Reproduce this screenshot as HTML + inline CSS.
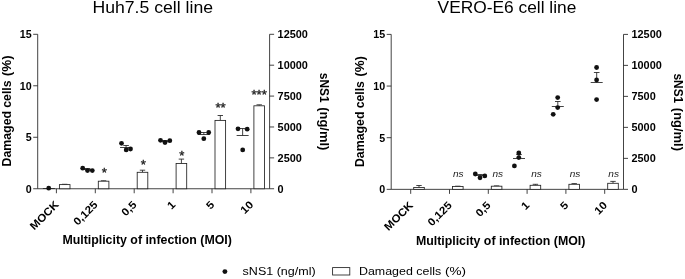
<!DOCTYPE html>
<html><head><meta charset="utf-8"><title>Figure</title>
<style>
html,body{margin:0;padding:0;background:#fff;overflow:hidden;}
svg{display:block;will-change:transform;font-family:"Liberation Sans",Arial,sans-serif;}
</style></head><body>
<svg width="685" height="279" viewBox="0 0 685 279">
<rect width="685" height="279" fill="#fff"/>
<g stroke="#222" stroke-width="0.85" fill="none">
<path d="M37.7 34.3V188.75H269.6V34.3"/>
<path d="M33.2 188.75H37.7"/>
<path d="M33.2 137.27H37.7"/>
<path d="M33.2 85.78H37.7"/>
<path d="M33.2 34.30H37.7"/>
<path d="M269.6 188.75H274.1"/>
<path d="M269.6 157.86H274.1"/>
<path d="M269.6 126.97H274.1"/>
<path d="M269.6 96.08H274.1"/>
<path d="M269.6 65.19H274.1"/>
<path d="M269.6 34.30H274.1"/>
<path d="M56.40 188.75V193.25"/>
<path d="M95.30 188.75V193.25"/>
<path d="M134.20 188.75V193.25"/>
<path d="M173.10 188.75V193.25"/>
<path d="M212.00 188.75V193.25"/>
<path d="M250.90 188.75V193.25"/>
</g>
<text x="31.700000000000003" y="192.55" font-size="10.7" font-weight="bold" text-anchor="end" fill="#000" textLength="5.95" lengthAdjust="spacingAndGlyphs">0</text>
<text x="31.700000000000003" y="141.07" font-size="10.7" font-weight="bold" text-anchor="end" fill="#000" textLength="5.95" lengthAdjust="spacingAndGlyphs">5</text>
<text x="31.700000000000003" y="89.58" font-size="10.7" font-weight="bold" text-anchor="end" fill="#000" textLength="11.90" lengthAdjust="spacingAndGlyphs">10</text>
<text x="31.700000000000003" y="38.10" font-size="10.7" font-weight="bold" text-anchor="end" fill="#000" textLength="11.90" lengthAdjust="spacingAndGlyphs">15</text>
<text x="277.6" y="192.65" font-size="10.9" font-weight="bold" fill="#000" textLength="6.06" lengthAdjust="spacingAndGlyphs">0</text>
<text x="277.6" y="161.76" font-size="10.9" font-weight="bold" fill="#000" textLength="24.25" lengthAdjust="spacingAndGlyphs">2500</text>
<text x="277.6" y="130.87" font-size="10.9" font-weight="bold" fill="#000" textLength="24.25" lengthAdjust="spacingAndGlyphs">5000</text>
<text x="277.6" y="99.98" font-size="10.9" font-weight="bold" fill="#000" textLength="24.25" lengthAdjust="spacingAndGlyphs">7500</text>
<text x="277.6" y="69.09" font-size="10.9" font-weight="bold" fill="#000" textLength="30.31" lengthAdjust="spacingAndGlyphs">10000</text>
<text x="277.6" y="38.20" font-size="10.9" font-weight="bold" fill="#000" textLength="30.31" lengthAdjust="spacingAndGlyphs">12500</text>
<text x="0" y="3.8" font-size="10.8" font-weight="bold" text-anchor="end" transform="translate(56.80 202.70) rotate(-45)" fill="#000" textLength="35.64" lengthAdjust="spacingAndGlyphs">MOCK</text>
<text x="0" y="3.8" font-size="10.8" font-weight="bold" text-anchor="end" transform="translate(95.70 202.70) rotate(-45)" fill="#000" textLength="29.19" lengthAdjust="spacingAndGlyphs">0,125</text>
<text x="0" y="3.8" font-size="10.8" font-weight="bold" text-anchor="end" transform="translate(134.60 202.70) rotate(-45)" fill="#000" textLength="16.21" lengthAdjust="spacingAndGlyphs">0,5</text>
<text x="0" y="3.8" font-size="10.8" font-weight="bold" text-anchor="end" transform="translate(173.50 202.70) rotate(-45)" fill="#000" textLength="6.49" lengthAdjust="spacingAndGlyphs">1</text>
<text x="0" y="3.8" font-size="10.8" font-weight="bold" text-anchor="end" transform="translate(212.40 202.70) rotate(-45)" fill="#000" textLength="6.49" lengthAdjust="spacingAndGlyphs">5</text>
<text x="0" y="3.8" font-size="10.8" font-weight="bold" text-anchor="end" transform="translate(251.30 202.70) rotate(-45)" fill="#000" textLength="12.97" lengthAdjust="spacingAndGlyphs">10</text>
<text x="92.44" y="12.85" font-size="15.8" fill="#000" textLength="120.61" lengthAdjust="spacingAndGlyphs">Huh7.5 cell line</text>
<text x="62.400000000000006" y="244.3" font-size="11.9" font-weight="bold" fill="#000" textLength="169.50" lengthAdjust="spacingAndGlyphs">Multiplicity of infection (MOI)</text>
<text x="-0.83" y="0" font-size="12.1" font-weight="bold" transform="translate(10.60 165.60) rotate(-90)" fill="#000" textLength="55.45" lengthAdjust="spacingAndGlyphs">Damaged</text>
<text x="-0.49" y="0" font-size="12.1" font-weight="bold" transform="translate(10.60 107.20) rotate(-90)" fill="#000" textLength="27.20" lengthAdjust="spacingAndGlyphs">cells</text>
<text x="-0.67" y="0" font-size="12.1" font-weight="bold" transform="translate(10.60 75.60) rotate(-90)" fill="#000" textLength="20.95" lengthAdjust="spacingAndGlyphs">(%)</text>
<text x="-0.42" y="0" font-size="12.1" font-weight="bold" transform="translate(319.90 73.20) rotate(90)" fill="#000" textLength="29.86" lengthAdjust="spacingAndGlyphs">sNS1</text>
<text x="-0.65" y="0" font-size="12.1" font-weight="bold" transform="translate(319.90 107.90) rotate(90)" fill="#000" textLength="43.09" lengthAdjust="spacingAndGlyphs">(ng/ml)</text>
<path d="M64.70 184.30V184.60M62.00 184.30H67.40" stroke="#222" stroke-width="0.85" fill="none"/>
<rect x="59.40" y="184.60" width="10.6" height="4.15" fill="#fff" stroke="#222" stroke-width="0.85"/>
<path d="M103.60 180.80V181.20M100.90 180.80H106.30" stroke="#222" stroke-width="0.85" fill="none"/>
<rect x="98.30" y="181.20" width="10.6" height="7.55" fill="#fff" stroke="#222" stroke-width="0.85"/>
<path d="M142.50 170.20V172.30M139.80 170.20H145.20" stroke="#222" stroke-width="0.85" fill="none"/>
<rect x="137.20" y="172.30" width="10.6" height="16.45" fill="#fff" stroke="#222" stroke-width="0.85"/>
<path d="M181.40 159.10V163.50M178.70 159.10H184.10" stroke="#222" stroke-width="0.85" fill="none"/>
<rect x="176.10" y="163.50" width="10.6" height="25.25" fill="#fff" stroke="#222" stroke-width="0.85"/>
<path d="M220.30 115.50V120.40M217.60 115.50H223.00" stroke="#222" stroke-width="0.85" fill="none"/>
<rect x="215.00" y="120.40" width="10.6" height="68.35" fill="#fff" stroke="#222" stroke-width="0.85"/>
<path d="M259.20 104.80V105.80M256.50 104.80H261.90" stroke="#222" stroke-width="0.85" fill="none"/>
<rect x="253.90" y="105.80" width="10.6" height="82.95" fill="#fff" stroke="#222" stroke-width="0.85"/>
<path d="M42.90 188.50H54.90" stroke="#222" stroke-width="0.85" fill="none"/>
<circle cx="48.7" cy="188.2" r="2.4" fill="#111"/>
<path d="M81.50 169.50H93.50M87.50 168.50V169.50M84.70 168.50H90.30" stroke="#222" stroke-width="0.85" fill="none"/>
<circle cx="82.7" cy="168.2" r="2.4" fill="#111"/>
<circle cx="87.5" cy="170.6" r="2.4" fill="#111"/>
<circle cx="92.3" cy="170.6" r="2.4" fill="#111"/>
<path d="M120.07 147.50H132.07M126.07 145.50V147.50M123.27 145.50H128.87" stroke="#222" stroke-width="0.85" fill="none"/>
<circle cx="121.5" cy="143.3" r="2.4" fill="#111"/>
<circle cx="126.2" cy="149.9" r="2.4" fill="#111"/>
<circle cx="130.5" cy="149.0" r="2.4" fill="#111"/>
<path d="M159.10 141.50H171.10M165.10 140.50V141.50M162.30 140.50H167.90" stroke="#222" stroke-width="0.85" fill="none"/>
<circle cx="160.5" cy="140.3" r="2.4" fill="#111"/>
<circle cx="165" cy="142.5" r="2.4" fill="#111"/>
<circle cx="169.8" cy="140.7" r="2.4" fill="#111"/>
<path d="M197.83 134.50H209.83M203.83 132.50V134.50M201.03 132.50H206.63" stroke="#222" stroke-width="0.85" fill="none"/>
<circle cx="199" cy="132.5" r="2.4" fill="#111"/>
<circle cx="208.7" cy="132.5" r="2.4" fill="#111"/>
<circle cx="203.8" cy="138.7" r="2.4" fill="#111"/>
<path d="M236.63 135.50H248.63M242.63 128.50V135.50M239.83 128.50H245.43" stroke="#222" stroke-width="0.85" fill="none"/>
<circle cx="238" cy="128.8" r="2.4" fill="#111"/>
<circle cx="247.2" cy="129.2" r="2.4" fill="#111"/>
<circle cx="242.7" cy="149.9" r="2.4" fill="#111"/>
<text x="104.2" y="176.8" font-size="13.2" text-anchor="middle" stroke="#222" stroke-width="0.35" fill="#222" textLength="5.14" lengthAdjust="spacingAndGlyphs">*</text>
<text x="143.3" y="169.2" font-size="13.2" text-anchor="middle" stroke="#222" stroke-width="0.35" fill="#222" textLength="5.14" lengthAdjust="spacingAndGlyphs">*</text>
<text x="181.9" y="159.8" font-size="13.2" text-anchor="middle" stroke="#222" stroke-width="0.35" fill="#222" textLength="5.14" lengthAdjust="spacingAndGlyphs">*</text>
<text x="220.6" y="112" font-size="13.2" text-anchor="middle" stroke="#222" stroke-width="0.35" fill="#222" textLength="10.27" lengthAdjust="spacingAndGlyphs">**</text>
<text x="259.1" y="99.2" font-size="13.2" text-anchor="middle" stroke="#222" stroke-width="0.35" fill="#222" textLength="15.41" lengthAdjust="spacingAndGlyphs">***</text>
<g stroke="#222" stroke-width="0.85" fill="none">
<path d="M391.2 34.4V189.35H623.5V34.4"/>
<path d="M386.7 189.35H391.2"/>
<path d="M386.7 137.70H391.2"/>
<path d="M386.7 86.05H391.2"/>
<path d="M386.7 34.40H391.2"/>
<path d="M623.5 189.35H628.0"/>
<path d="M623.5 158.36H628.0"/>
<path d="M623.5 127.37H628.0"/>
<path d="M623.5 96.38H628.0"/>
<path d="M623.5 65.39H628.0"/>
<path d="M623.5 34.40H628.0"/>
<path d="M410.70 189.35V193.85"/>
<path d="M449.50 189.35V193.85"/>
<path d="M488.30 189.35V193.85"/>
<path d="M527.10 189.35V193.85"/>
<path d="M565.90 189.35V193.85"/>
<path d="M604.70 189.35V193.85"/>
</g>
<text x="385.2" y="193.15" font-size="10.7" font-weight="bold" text-anchor="end" fill="#000" textLength="5.95" lengthAdjust="spacingAndGlyphs">0</text>
<text x="385.2" y="141.50" font-size="10.7" font-weight="bold" text-anchor="end" fill="#000" textLength="5.95" lengthAdjust="spacingAndGlyphs">5</text>
<text x="385.2" y="89.85" font-size="10.7" font-weight="bold" text-anchor="end" fill="#000" textLength="11.90" lengthAdjust="spacingAndGlyphs">10</text>
<text x="385.2" y="38.20" font-size="10.7" font-weight="bold" text-anchor="end" fill="#000" textLength="11.90" lengthAdjust="spacingAndGlyphs">15</text>
<text x="631.5" y="193.25" font-size="10.9" font-weight="bold" fill="#000" textLength="6.06" lengthAdjust="spacingAndGlyphs">0</text>
<text x="631.5" y="162.26" font-size="10.9" font-weight="bold" fill="#000" textLength="24.25" lengthAdjust="spacingAndGlyphs">2500</text>
<text x="631.5" y="131.27" font-size="10.9" font-weight="bold" fill="#000" textLength="24.25" lengthAdjust="spacingAndGlyphs">5000</text>
<text x="631.5" y="100.28" font-size="10.9" font-weight="bold" fill="#000" textLength="24.25" lengthAdjust="spacingAndGlyphs">7500</text>
<text x="631.5" y="69.29" font-size="10.9" font-weight="bold" fill="#000" textLength="30.31" lengthAdjust="spacingAndGlyphs">10000</text>
<text x="631.5" y="38.30" font-size="10.9" font-weight="bold" fill="#000" textLength="30.31" lengthAdjust="spacingAndGlyphs">12500</text>
<text x="0" y="3.8" font-size="10.8" font-weight="bold" text-anchor="end" transform="translate(411.10 203.30) rotate(-45)" fill="#000" textLength="35.64" lengthAdjust="spacingAndGlyphs">MOCK</text>
<text x="0" y="3.8" font-size="10.8" font-weight="bold" text-anchor="end" transform="translate(449.90 203.30) rotate(-45)" fill="#000" textLength="29.19" lengthAdjust="spacingAndGlyphs">0,125</text>
<text x="0" y="3.8" font-size="10.8" font-weight="bold" text-anchor="end" transform="translate(488.70 203.30) rotate(-45)" fill="#000" textLength="16.21" lengthAdjust="spacingAndGlyphs">0,5</text>
<text x="0" y="3.8" font-size="10.8" font-weight="bold" text-anchor="end" transform="translate(527.50 203.30) rotate(-45)" fill="#000" textLength="6.49" lengthAdjust="spacingAndGlyphs">1</text>
<text x="0" y="3.8" font-size="10.8" font-weight="bold" text-anchor="end" transform="translate(566.30 203.30) rotate(-45)" fill="#000" textLength="6.49" lengthAdjust="spacingAndGlyphs">5</text>
<text x="0" y="3.8" font-size="10.8" font-weight="bold" text-anchor="end" transform="translate(605.10 203.30) rotate(-45)" fill="#000" textLength="12.97" lengthAdjust="spacingAndGlyphs">10</text>
<text x="437.61" y="12.85" font-size="15.8" fill="#000" textLength="138.73" lengthAdjust="spacingAndGlyphs">VERO-E6 cell line</text>
<text x="415.9" y="244.9" font-size="11.9" font-weight="bold" fill="#000" textLength="169.50" lengthAdjust="spacingAndGlyphs">Multiplicity of infection (MOI)</text>
<text x="-0.83" y="0" font-size="12.1" font-weight="bold" transform="translate(364.10 166.20) rotate(-90)" fill="#000" textLength="55.45" lengthAdjust="spacingAndGlyphs">Damaged</text>
<text x="-0.49" y="0" font-size="12.1" font-weight="bold" transform="translate(364.10 107.80) rotate(-90)" fill="#000" textLength="27.20" lengthAdjust="spacingAndGlyphs">cells</text>
<text x="-0.67" y="0" font-size="12.1" font-weight="bold" transform="translate(364.10 76.20) rotate(-90)" fill="#000" textLength="20.95" lengthAdjust="spacingAndGlyphs">(%)</text>
<text x="-0.42" y="0" font-size="12.1" font-weight="bold" transform="translate(673.80 73.80) rotate(90)" fill="#000" textLength="29.86" lengthAdjust="spacingAndGlyphs">sNS1</text>
<text x="-0.65" y="0" font-size="12.1" font-weight="bold" transform="translate(673.80 108.50) rotate(90)" fill="#000" textLength="43.09" lengthAdjust="spacingAndGlyphs">(ng/ml)</text>
<path d="M419.00 185.50V187.50M416.30 185.50H421.70" stroke="#222" stroke-width="0.85" fill="none"/>
<rect x="413.70" y="187.50" width="10.6" height="1.85" fill="#fff" stroke="#222" stroke-width="0.85"/>
<path d="M457.80 186.20V186.50M455.10 186.20H460.50" stroke="#222" stroke-width="0.85" fill="none"/>
<rect x="452.50" y="186.50" width="10.6" height="2.85" fill="#fff" stroke="#222" stroke-width="0.85"/>
<path d="M496.60 185.90V186.20M493.90 185.90H499.30" stroke="#222" stroke-width="0.85" fill="none"/>
<rect x="491.30" y="186.20" width="10.6" height="3.15" fill="#fff" stroke="#222" stroke-width="0.85"/>
<path d="M535.40 184.30V185.30M532.70 184.30H538.10" stroke="#222" stroke-width="0.85" fill="none"/>
<rect x="530.10" y="185.30" width="10.6" height="4.05" fill="#fff" stroke="#222" stroke-width="0.85"/>
<path d="M574.20 183.60V184.30M571.50 183.60H576.90" stroke="#222" stroke-width="0.85" fill="none"/>
<rect x="568.90" y="184.30" width="10.6" height="5.05" fill="#fff" stroke="#222" stroke-width="0.85"/>
<path d="M613.00 181.40V183.30M610.30 181.40H615.70" stroke="#222" stroke-width="0.85" fill="none"/>
<rect x="607.70" y="183.30" width="10.6" height="6.05" fill="#fff" stroke="#222" stroke-width="0.85"/>
<path d="M474.03 175.50H486.03M480.03 174.50V175.50M477.23 174.50H482.83" stroke="#222" stroke-width="0.85" fill="none"/>
<circle cx="475.3" cy="174.0" r="2.4" fill="#111"/>
<circle cx="480" cy="177.8" r="2.4" fill="#111"/>
<circle cx="484.8" cy="175.9" r="2.4" fill="#111"/>
<path d="M513.00 158.50H525.00M519.00 154.50V158.50M516.20 154.50H521.80" stroke="#222" stroke-width="0.85" fill="none"/>
<circle cx="514.4" cy="165.9" r="2.4" fill="#111"/>
<circle cx="518.8" cy="152.9" r="2.4" fill="#111"/>
<circle cx="518.8" cy="157.6" r="2.4" fill="#111"/>
<path d="M551.80 106.50H563.80M557.80 101.50V106.50M555.00 101.50H560.60" stroke="#222" stroke-width="0.85" fill="none"/>
<circle cx="553.2" cy="114.3" r="2.4" fill="#111"/>
<circle cx="557.7" cy="97.6" r="2.4" fill="#111"/>
<circle cx="557.7" cy="107.6" r="2.4" fill="#111"/>
<path d="M590.70 82.50H602.70M596.70 72.50V82.50M593.90 72.50H599.50" stroke="#222" stroke-width="0.85" fill="none"/>
<circle cx="596.6" cy="67.5" r="2.4" fill="#111"/>
<circle cx="596.6" cy="79.9" r="2.4" fill="#111"/>
<circle cx="596.6" cy="99.6" r="2.4" fill="#111"/>
<text x="458.3" y="177.1" font-size="9.8" font-style="italic" text-anchor="middle" fill="#222" textLength="10.66" lengthAdjust="spacingAndGlyphs">ns</text>
<text x="497.8" y="177.1" font-size="9.8" font-style="italic" text-anchor="middle" fill="#222" textLength="10.66" lengthAdjust="spacingAndGlyphs">ns</text>
<text x="536.6" y="177.1" font-size="9.8" font-style="italic" text-anchor="middle" fill="#222" textLength="10.66" lengthAdjust="spacingAndGlyphs">ns</text>
<text x="575.1" y="177.0" font-size="9.8" font-style="italic" text-anchor="middle" fill="#222" textLength="10.66" lengthAdjust="spacingAndGlyphs">ns</text>
<text x="613.7" y="177.0" font-size="9.8" font-style="italic" text-anchor="middle" fill="#222" textLength="10.66" lengthAdjust="spacingAndGlyphs">ns</text>
<circle cx="224.9" cy="271.6" r="2.45" fill="#111"/>
<text x="242.6" y="275.3" font-size="11.7" fill="#000" textLength="73.00" lengthAdjust="spacingAndGlyphs">sNS1 (ng/ml)</text>
<rect x="332.6" y="267.6" width="17.2" height="7.4" fill="#fff" stroke="#222" stroke-width="0.85"/>
<text x="358.98" y="275.3" font-size="11.7" fill="#000" textLength="82.15" lengthAdjust="spacingAndGlyphs">Damaged cells</text>
<text x="445.06" y="275.3" font-size="11.7" fill="#000" textLength="20.95" lengthAdjust="spacingAndGlyphs">(%)</text>
</svg>
</body></html>
